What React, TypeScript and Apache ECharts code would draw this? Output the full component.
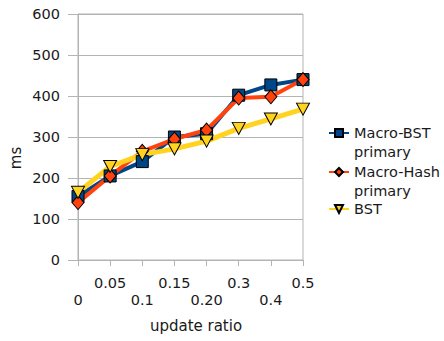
import React, { useEffect, useRef } from "react";
import * as echarts from "echarts";

const categories = ["0", "0.05", "0.1", "0.15", "0.20", "0.3", "0.4", "0.5"];
const macroBst = [155, 205, 240, 300, 308, 402, 427, 440];
const macroHash = [140, 205, 265, 295, 317, 395, 398, 440];
const bst = [165, 228, 257, 271, 290, 321, 344, 368];
const yTicks = { min: 0, max: 600, interval: 100 };

const FONT = "DejaVu Sans";
const TXT = "#1a1a1a";
const GRID = "#b3b3b3";

export default function App() {
  const ref = useRef<HTMLDivElement>(null);
  useEffect(() => {
    if (!ref.current) return;
    const chart = echarts.init(ref.current, undefined, { renderer: "svg" });
    const legendBase = {
      orient: "vertical",
      left: 328,
      padding: 0,
      itemGap: 0,
      itemWidth: 20,
      itemHeight: 10,
      selectedMode: false,
      textStyle: { fontFamily: FONT, fontSize: 14.5, color: TXT, lineHeight: 19 },
    };
    const twoLine = (name: string) => "\n" + name;
    chart.setOption({
      animation: false,
      grid: { left: 78, right: 141, top: 14, bottom: 81, show: true, borderColor: GRID, borderWidth: 1 },
      xAxis: {
        type: "category",
        data: categories,
        boundaryGap: false,
        axisLine: { lineStyle: { color: GRID } },
        axisTick: { show: true, length: 6, alignWithLabel: true, lineStyle: { color: GRID } },
        axisLabel: {
          interval: 0,
          margin: 14,
          fontFamily: FONT,
          fontSize: 14.5,
          color: TXT,
          lineHeight: 17,
          formatter: (v: string, i: number) => (i % 2 === 0 ? "\n" + v : v),
        },
        splitLine: { show: false },
        name: "update ratio",
        nameLocation: "middle",
        nameGap: 58,
        nameTextStyle: { fontFamily: FONT, fontSize: 15, color: TXT, padding: [0, 0, 0, 11] },
      },
      yAxis: {
        type: "value",
        min: yTicks.min,
        max: yTicks.max,
        interval: yTicks.interval,
        axisLine: { show: true, lineStyle: { color: GRID } },
        axisTick: { show: true, length: 10, lineStyle: { color: GRID } },
        axisLabel: { margin: 18, fontFamily: FONT, fontSize: 14.5, color: TXT },
        splitLine: { show: true, lineStyle: { color: GRID, width: 1 } },
      },
      legend: [
        { ...legendBase, top: 104.5, data: ["Macro-BST\nprimary"], formatter: twoLine },
        { ...legendBase, top: 143.5, data: ["Macro-Hash\nprimary"], formatter: twoLine },
        { ...legendBase, top: 199.5, data: ["BST"] },
      ],
      graphic: [
        {
          type: "text",
          x: 16,
          y: 158,
          rotation: Math.PI / 2,
          style: { text: "ms", fontFamily: FONT, fontSize: 15, fill: TXT, align: "center", verticalAlign: "middle" },
        },
      ],
      series: [
        {
          name: "Macro-BST\nprimary",
          type: "line",
          data: macroBst,
          symbol: "rect",
          symbolSize: 12,
          lineStyle: { color: "#004586", width: 4 },
          itemStyle: { color: "#004586", borderColor: "#000", borderWidth: 1 },
        },
        {
          name: "Macro-Hash\nprimary",
          type: "line",
          data: macroHash,
          symbol: "diamond",
          symbolSize: [12, 14],
          lineStyle: { color: "#ff420e", width: 4 },
          itemStyle: { color: "#ff420e", borderColor: "#000", borderWidth: 1 },
        },
        {
          name: "BST",
          type: "line",
          data: bst,
          symbol: "triangle",
          symbolRotate: 180,
          symbolSize: [13, 12],
          lineStyle: { color: "#ffd320", width: 5 },
          itemStyle: { color: "#ffd320", borderColor: "#000", borderWidth: 1 },
        },
      ],
    });
    return () => chart.dispose();
  }, []);
  return (
    <div
      ref={ref}
      style={{ position: "absolute", left: 0, top: 0, width: 444, height: 341, background: "#fff" }}
    />
  );
}
